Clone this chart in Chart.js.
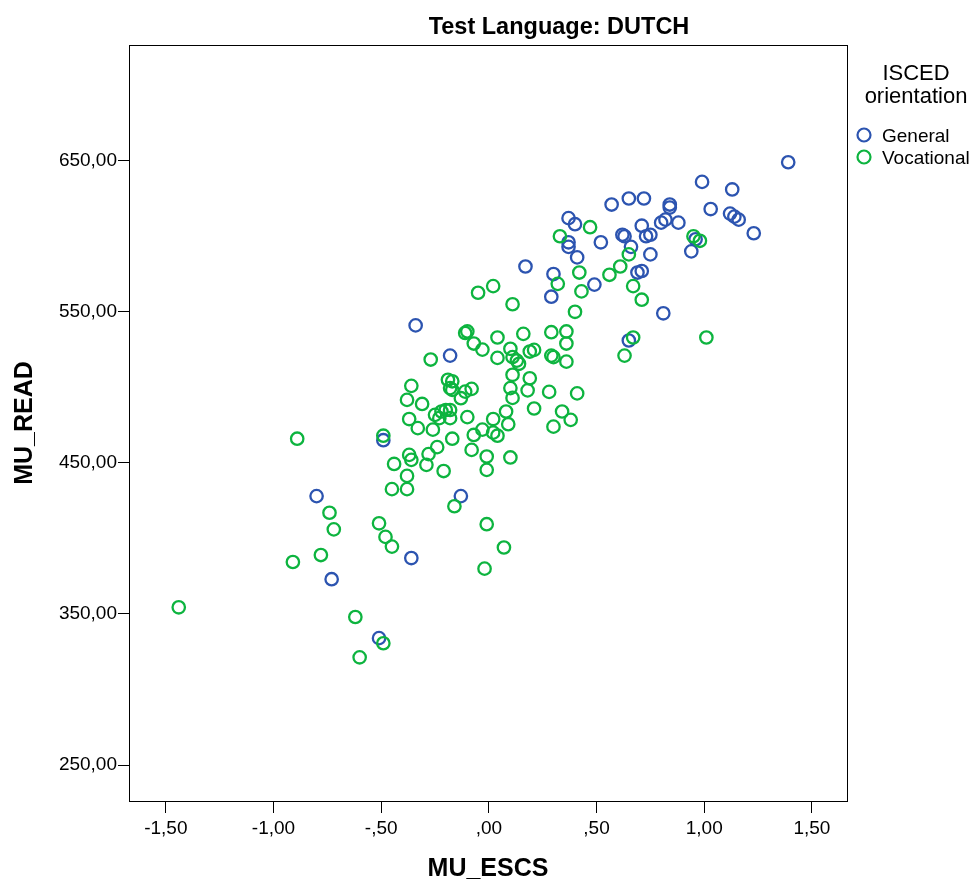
<!DOCTYPE html>
<html>
<head>
<meta charset="utf-8">
<script src="https://cdn.jsdelivr.net/npm/chart.js@4.4.0/dist/chart.umd.min.js"></script>
<style>
body { margin: 0; background: #fff; }
#wrap { width: 976px; height: 884px; }
</style>
</head>
<body>
<div id="wrap"><canvas id="grafico" width="976" height="884"></canvas></div>
<script>
const titulo = 'Test Language: DUTCH';
const legendaTitulo = ['ISCED', 'orientation'];
const categorias = ['General', 'Vocational'];
const cores = ['#2C54B0', '#0DB43F'];

const xTicks = [-1.5, -1.0, -0.5, 0, 0.5, 1.0, 1.5];
const xTickLabels = ['-1,50', '-1,00', '-,50', ',00', ',50', '1,00', '1,50'];
const yTicks = [250, 350, 450, 550, 650];
const yTickLabels = ['250,00', '350,00', '450,00', '550,00', '650,00'];

// General
const generalX = [1.39, 0.99, 1.13, 0.57, 0.65, 0.72, 0.84, 0.84, 1.03, 1.12, 1.14, 1.16, 1.23, 0.37, 0.40, 0.71,
    0.82, 0.80, 0.88, 0.62, 0.63, 0.73, 0.75, 0.52, 0.37, 0.37, 0.41, 0.66, 0.75, 0.94, 0.69, 0.71, 0.49, 0.81,
    0.30, 0.29, 0.65, 0.17, -0.34, -0.18, -0.13, -0.49, -0.80, -0.73, -0.36, -0.51, 0.96];
const generalY = [649, 636, 631, 621, 625, 625, 621, 619, 618, 615, 613, 611, 602, 612, 608, 607,
    611, 609, 609, 601, 600, 600, 601, 596, 596, 593, 586, 593, 588, 590, 576, 577, 568, 549,
    575, 560, 531, 580, 541, 521, 428, 465, 428, 373, 387, 334, 598];

// Vocational
const vocationalX = [0.47, 0.33, 0.42, 0.32, 0.43, 0.40, 0.36, 0.36, 0.36, 0.41, 0.34, 0.38,
    0.65, 0.61, 0.56, 0.67, 0.71, 0.95, 0.98, 1.01, 0.63, 0.67,
    -0.05, 0.02, 0.11, -0.10, -0.11, 0.04, 0.16, 0.29,
    -0.07, -0.03, -0.27, 0.04, 0.10, 0.11, 0.13, 0.14, 0.19, 0.21, 0.29, 0.30,
    0.11, 0.19, 0.10, 0.11, 0.18, 0.28, 0.21, 0.08, 0.09, 0.30,
    -0.36, -0.38, -0.31, -0.37, -0.33, -0.26,
    -0.19, -0.17, -0.18, -0.17, -0.13, -0.11, -0.08,
    -0.25, -0.22, -0.20, -0.18, -0.23, -0.18, -0.10, 0.02,
    -0.03, -0.07, 0.02, 0.04, -0.17, -0.24, -0.28, -0.37, -0.36, -0.29, -0.44, -0.21,
    -0.08, -0.01, 0.10, -0.01, -0.38, -0.45, -0.38, -0.49,
    -0.89, -0.74, -0.72, -0.91, -0.78, -0.51, -0.48, -0.45, -0.16, -0.01, 0.07, -0.02,
    -0.62, -0.49, -0.60, -1.44];
const vocationalY = [606, 600, 576, 568.5, 563.5, 550, 537, 529, 517, 496, 484, 478.5,
    588, 580, 574.5, 567, 558, 600, 597, 533, 521, 533,
    562.6, 567, 555, 537, 536, 533, 535.4, 536.5,
    529, 525, 518.4, 519.5, 525.5, 520, 517.7, 515.6, 523.7, 524.8, 521, 520,
    508.3, 506, 499.5, 493, 498, 497, 486, 484, 475.6, 474,
    501, 491.7, 489, 479, 473, 472,
    505, 504, 499.5, 498.3, 492.8, 497.2, 499,
    481.8, 484, 485, 485, 479.6, 479.6, 480.3, 479,
    472, 468.5, 470, 468, 466, 460.4, 455.8, 455.3, 452, 448.7, 449.3, 444.6,
    458.6, 454.2, 453.6, 445.4, 441.4, 432.6, 432.6, 468,
    466, 417, 406, 384.4, 389, 410, 401, 394.6, 421.3, 409.4, 394, 380,
    348, 330.6, 321.3, 354.4];

const fonte = '"Liberation Sans", Arial, sans-serif';

function pontos(xs, ys) {
    return xs.map((x, i) => ({ x: x, y: ys[i] }));
}

// moldura, titulo e legenda desenhados a mao
const extras = {
    id: 'extras',
    afterDraw(chart) {
        const c = chart.ctx;
        const a = chart.chartArea;
        c.save();
        c.strokeStyle = '#000';
        c.lineWidth = 1;
        c.strokeRect(a.left + 0.5, a.top + 0.5, a.right - a.left, a.bottom - a.top);

        c.fillStyle = '#000';
        c.textAlign = 'center';
        c.textBaseline = 'alphabetic';
        c.font = 'bold 23.5px ' + fonte;
        c.fillText(titulo, 559, 34);

        c.font = '22px ' + fonte;
        c.fillText(legendaTitulo[0], 916, 80);
        c.fillText(legendaTitulo[1], 916, 103);

        c.textAlign = 'left';
        c.font = '19px ' + fonte;
        const ys = [135, 157];
        categorias.forEach((nome, i) => {
            c.beginPath();
            c.strokeStyle = cores[i];
            c.lineWidth = 2.2;
            c.arc(864, ys[i], 6.5, 0, Math.PI * 2);
            c.stroke();
            c.fillStyle = '#000';
            c.fillText(nome, 882, ys[i] + 7);
        });
        c.restore();
    }
};

const ctx = document.getElementById('grafico').getContext('2d');

new Chart(ctx, {
    type: 'scatter',
    data: {
        datasets: [
            {
                label: categorias[0],
                data: pontos(generalX, generalY),
                borderColor: cores[0],
                backgroundColor: 'rgba(0,0,0,0)',
                borderWidth: 2.3,
                pointRadius: 6.2,
                order: 1
            },
            {
                label: categorias[1],
                data: pontos(vocationalX, vocationalY),
                borderColor: cores[1],
                backgroundColor: 'rgba(0,0,0,0)',
                borderWidth: 2.3,
                pointRadius: 6.2,
                order: 0
            }
        ]
    },
    options: {
        responsive: false,
        animation: false,
        events: [],
        layout: { padding: { left: 0, top: 45, right: 129, bottom: 0 } },
        plugins: {
            legend: { display: false },
            title: { display: false },
            tooltip: { enabled: false }
        },
        scales: {
            x: {
                type: 'linear',
                min: -1.671,
                max: 1.663,
                afterBuildTicks: (s) => { s.ticks = xTicks.map(v => ({ value: v })); },
                afterFit: (s) => { s.height = 83; },
                grid: { drawOnChartArea: false, color: '#000', tickLength: 12, tickWidth: 1 },
                border: { color: '#000', width: 1 },
                ticks: {
                    autoSkip: false,
                    maxRotation: 0,
                    padding: 4,
                    color: '#000',
                    font: { family: fonte, size: 19 },
                    callback: (v, i) => xTickLabels[i]
                },
                title: {
                    display: true,
                    text: 'MU_ESCS',
                    color: '#000',
                    font: { family: fonte, size: 25, weight: 'bold' },
                    padding: { top: 0, bottom: 0 }
                }
            },
            y: {
                type: 'linear',
                min: 226.2,
                max: 726.6,
                afterBuildTicks: (s) => { s.ticks = yTicks.map(v => ({ value: v })); },
                afterFit: (s) => { s.width = 129; },
                grid: { drawOnChartArea: false, color: '#000', tickLength: 11, tickWidth: 1 },
                border: { color: '#000', width: 1 },
                ticks: {
                    autoSkip: false,
                    padding: 1,
                    color: '#000',
                    font: { family: fonte, size: 19 },
                    callback: (v, i) => yTickLabels[i]
                },
                title: {
                    display: true,
                    text: 'MU_READ',
                    color: '#000',
                    font: { family: fonte, size: 25, weight: 'bold' },
                    padding: { top: 10, bottom: 0 }
                }
            }
        }
    },
    plugins: [extras]
});
</script>
</body>
</html>
